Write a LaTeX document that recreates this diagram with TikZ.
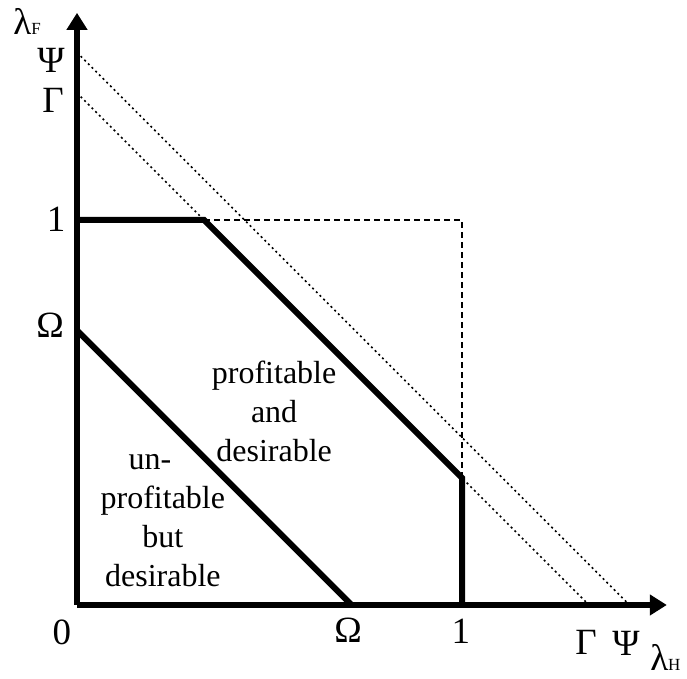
\documentclass[tikz,border=0pt]{standalone}
\usepackage{fontspec}
\setmainfont{Liberation Serif}
\usetikzlibrary{arrows.meta}
\newcommand{\ticklabel}{\fontsize{18.5}{22}\selectfont}
\newcommand{\regionlabel}{\fontsize{16}{19.5}\selectfont}
\newcommand{\axissub}[1]{{\fontsize{8.5}{9}\selectfont #1}}
\newcommand{\omegaval}{0.713}
\newcommand{\gammaval}{1.33}
\newcommand{\psival}{1.435}
\begin{document}
\begin{tikzpicture}[x=192.5pt, y=192.5pt,
  heavy/.style={line width=3pt, line join=miter},
  dotline/.style={line width=0.8pt, dash pattern=on 1pt off 1.6pt},
  boxline/.style={line width=1pt, dash pattern=on 3pt off 2pt},
  tick/.style={font=\ticklabel, inner sep=0pt}]
  \useasboundingbox (-0.2,-0.1922) rectangle (1.5844,1.5714);
  \coordinate (O) at (0,0);
  \coordinate (xend) at (1.532,0);
  \coordinate (yend) at (0,1.538);
  \coordinate (omegaY) at (0,\omegaval);
  \coordinate (omegaX) at (\omegaval,0);
  \coordinate (gammaY) at (0,\gammaval);
  \coordinate (gammaX) at (\gammaval,0);
  \coordinate (psiY) at (0,\psival);
  \coordinate (psiX) at (\psival,0);
  \coordinate (oneY) at (0,1);
  \coordinate (oneX) at (1,0);
  \coordinate (kinkTop) at (\gammaval-1,1);
  \coordinate (kinkRight) at (1,\gammaval-1);
  \coordinate (corner) at (1,1);
  \draw[dotline] (gammaY) -- (gammaX);
  \draw[dotline] (psiY) -- (psiX);
  \draw[boxline] (kinkTop) -- (corner) -- (kinkRight);
  \draw[heavy] (oneY) -- (kinkTop) -- (kinkRight) -- (oneX);
  \draw[heavy] (omegaY) -- (omegaX);
  \draw[heavy, -{Triangle[length=8.5pt, width=10pt]}] (O) -- (xend);
  \draw[heavy, -{Triangle[length=8.5pt, width=10pt]}] (O) -- (yend);
  \node[tick, anchor=base west] (lamF) at (-0.166,1.4805) {λ\axissub{F}};
  \node[tick] (psiLY) at (-0.0675,1.4156) {Ψ};
  \node[tick] (gamLY) at (-0.0623,1.3117) {Γ};
  \node[tick] (oneLY) at (-0.0545,1.0026) {1};
  \node[tick] (omLY) at (-0.070,0.727) {Ω};
  \node[tick] (zero) at (-0.039,-0.070) {0};
  \node[tick] (omLX) at (0.704,-0.065) {Ω};
  \node[tick] (oneLX) at (0.997,-0.0675) {1};
  \node[tick] (gamLX) at (1.322,-0.096) {Γ};
  \node[tick] (psiLX) at (1.426,-0.099) {Ψ};
  \node[tick, anchor=base west] (lamH) at (1.488,-0.1714) {λ\axissub{H}};
  \node[font=\regionlabel, align=center, inner sep=0pt] (profit) at (0.512,0.504)
    {profitable\\and\\desirable};
  \node[font=\regionlabel, align=center, inner sep=0pt] (unprofit) at (0.223,0.218)
    {un-\hspace*{0.8em}\\profitable\\but\\desirable};
\end{tikzpicture}
\end{document}
